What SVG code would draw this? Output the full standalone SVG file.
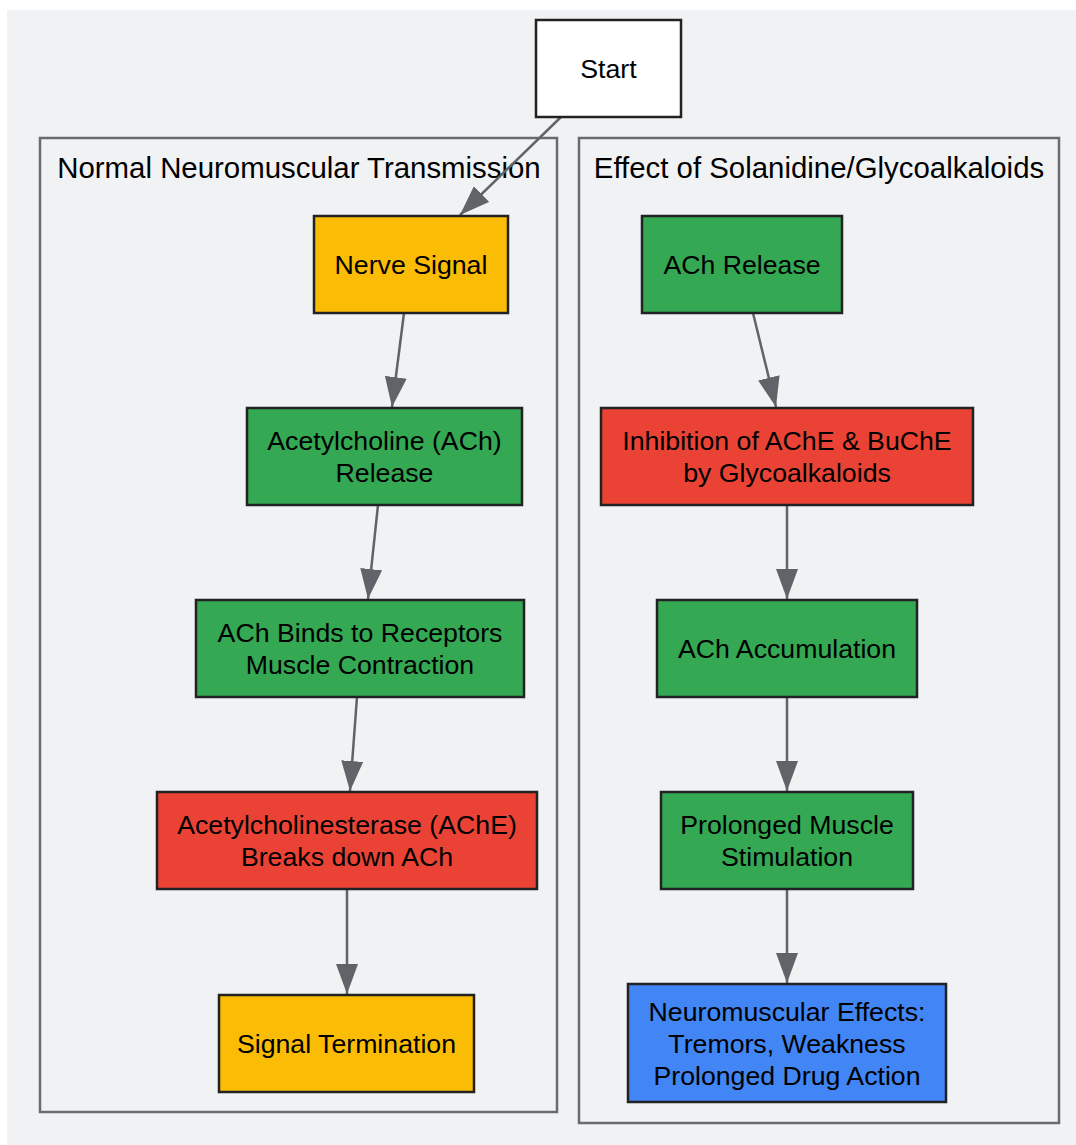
<svg xmlns="http://www.w3.org/2000/svg" width="1076" height="1145" viewBox="0 0 1076 1145">
<style>
.bg{fill:#f1f2f4}
.cl{fill:#f1f2f4;stroke:#696b70;stroke-width:2.5}
.ct{font-family:"Liberation Sans",Arial,sans-serif;font-size:29.4px;fill:#000;text-anchor:middle;dominant-baseline:central}
.n rect{stroke:#222;stroke-width:2.5}
.n text{font-family:"Liberation Sans",Arial,sans-serif;font-size:26.7px;fill:#000;text-anchor:middle;dominant-baseline:central}
.e{fill:none;stroke:#606368;stroke-width:2.5;marker-end:url(#ah)}
.w{fill:#fff}.y{fill:#fbbc05}.g{fill:#34a853}.r{fill:#ea4335}.b{fill:#4285f4}
</style>
<defs>
<marker id="ah" viewBox="0 0 30 22" refX="30" refY="11" markerWidth="30" markerHeight="22" markerUnits="userSpaceOnUse" orient="auto">
<path d="M0,0 L30,11 L0,22 Z" fill="#606368"/>
</marker>
</defs>
<rect class="bg" x="7" y="10" width="1069" height="1135"/>
<g id="cluster-normal">
<rect class="cl" x="40" y="138" width="517" height="974"/>
<text class="ct" x="299" y="167">Normal Neuromuscular Transmission</text>
</g>
<g id="cluster-effect">
<rect class="cl" x="579" y="138" width="480" height="985"/>
<text class="ct" x="819" y="167">Effect of Solanidine/Glycoalkaloids</text>
</g>
<g id="connectors">
<path class="e" d="M561,117 L460,215"/>
<path class="e" d="M404,313 L392,407"/>
<path class="e" d="M378,505 L368,599"/>
<path class="e" d="M357,697 L350,791"/>
<path class="e" d="M347,889 L347,994"/>
<path class="e" d="M753,313 L776,407"/>
<path class="e" d="M787,505 L787,599"/>
<path class="e" d="M787,697 L787,791"/>
<path class="e" d="M787,889 L787,983"/>
</g>
<g id="start" class="n"><rect class="w" x="536" y="20" width="145" height="97"/><text x="608.5" y="69">Start</text></g>
<g id="nerve-signal" class="n"><rect class="y" x="314" y="216" width="194" height="97"/><text x="411" y="265">Nerve Signal</text></g>
<g id="ach-release-1" class="n"><rect class="g" x="247" y="408" width="275" height="97"/><text x="384.5" y="441">Acetylcholine (ACh)</text><text x="384.5" y="473">Release</text></g>
<g id="ach-binds" class="n"><rect class="g" x="196" y="600" width="328" height="97"/><text x="360" y="633">ACh Binds to Receptors</text><text x="360" y="665">Muscle Contraction</text></g>
<g id="ache" class="n"><rect class="r" x="157" y="792" width="380" height="97"/><text x="347" y="825">Acetylcholinesterase (AChE)</text><text x="347" y="857">Breaks down ACh</text></g>
<g id="signal-termination" class="n"><rect class="y" x="219" y="995" width="255" height="97"/><text x="346.5" y="1044">Signal Termination</text></g>
<g id="ach-release-2" class="n"><rect class="g" x="642" y="216" width="200" height="97"/><text x="742" y="265">ACh Release</text></g>
<g id="inhibition" class="n"><rect class="r" x="601" y="408" width="372" height="97"/><text x="787" y="441">Inhibition of AChE &amp; BuChE</text><text x="787" y="473">by Glycoalkaloids</text></g>
<g id="ach-accumulation" class="n"><rect class="g" x="657" y="600" width="260" height="97"/><text x="787" y="649">ACh Accumulation</text></g>
<g id="prolonged-stimulation" class="n"><rect class="g" x="661" y="792" width="252" height="97"/><text x="787" y="825">Prolonged Muscle</text><text x="787" y="857">Stimulation</text></g>
<g id="neuromuscular-effects" class="n"><rect class="b" x="628" y="984" width="318" height="118"/><text x="787" y="1012">Neuromuscular Effects:</text><text x="787" y="1044">Tremors, Weakness</text><text x="787" y="1076">Prolonged Drug Action</text></g>
</svg>
